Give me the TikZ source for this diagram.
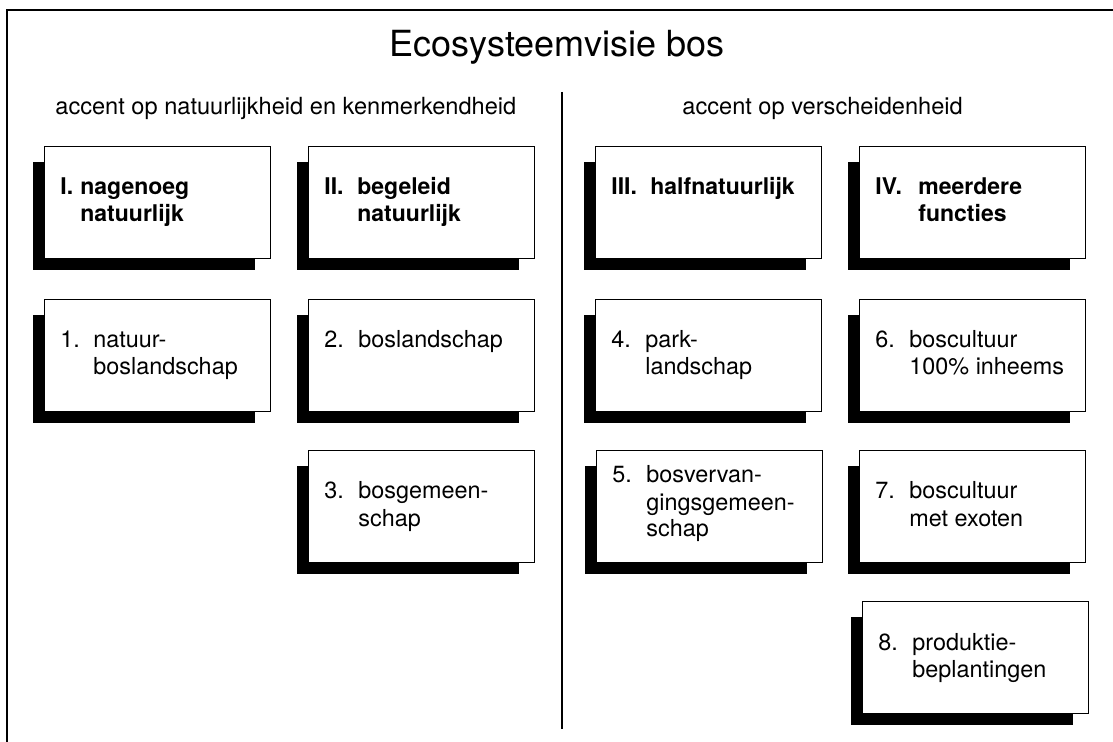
\documentclass[tikz,border=0pt]{standalone}
\usepackage{fontspec}
\setmainfont{TeX Gyre Heros}
\newcommand\ebox[4]{% name, x, y(top), label
  \fill[shade] (#2-11,#3+16) rectangle (#2+211,#3+124);
  \node[ebox] (#1) at (#2,#3) {};
  \node[txt] (#1-n) at (#2+16,#3+49) {#4};
}
\newcommand\eboxb[4]{% bold label
  \fill[shade] (#2-11,#3+16) rectangle (#2+211,#3+124);
  \node[ebox] (#1) at (#2,#3) {};
  \node[btxt] (#1-n) at (#2+16,#3+49) {#4};
}
\begin{document}
\begin{tikzpicture}[x=0.5pt,y=-0.5pt,
  frame/.style={line width=0.8pt},
  ebox/.style={draw, fill=white, line width=0.7pt, minimum width=113pt, minimum height=56pt, inner sep=0pt, anchor=north west},
  shade/.style={fill=black},
  txt/.style={anchor=base west, inner sep=0pt, font=\fontsize{11.7}{13.5}\selectfont},
  btxt/.style={txt, font=\fontsize{11.5}{13.5}\selectfont\bfseries},
  head/.style={anchor=base west, inner sep=0pt, font=\fontsize{11.8}{14}\selectfont},
  ttl/.style={anchor=base, inner sep=0pt, font=\fontsize{18}{22}\selectfont}]
\useasboundingbox (0,0) rectangle (1113,742);
% frame and divider
\draw[frame] (1113,10) -- (7,10) -- (7,742);
\draw[frame] (562,92) -- (562,729);
% headings
\node[ttl] (title) at (557,57) {Ecosysteemvisie bos};
\node[head] (hl) at (55,115) {accent op natuurlijkheid en kenmerkendheid};
\node[head] (hr) at (682,115) {accent op verscheidenheid};
% row 1
\eboxb{bI}{44}{146}{I.}
\node[btxt] (bI-a) at (44+36,146+49) {nagenoeg};
\node[btxt] (bI-b) at (44+36,146+76) {natuurlijk};
\eboxb{bII}{308}{146}{II.}
\node[btxt] (bII-a) at (308+49,146+49) {begeleid};
\node[btxt] (bII-b) at (308+49,146+76) {natuurlijk};
\eboxb{bIII}{595}{146}{III.}
\node[btxt] (bIII-a) at (595+55,146+49) {halfnatuurlijk};
\eboxb{bIV}{859}{146}{IV.}
\node[btxt] (bIV-a) at (859+59,146+49) {meerdere};
\node[btxt] (bIV-b) at (859+59,146+76) {functies};
% row 2
\ebox{b1}{44}{299}{1.}
\node[txt] (b1-a) at (44+49,299+49) {natuur-};
\node[txt] (b1-b) at (44+49,299+76) {boslandschap};
\ebox{b2}{308}{299}{2.}
\node[txt] (b2-a) at (308+50,299+49) {boslandschap};
\ebox{b4}{595}{299}{4.}
\node[txt] (b4-a) at (595+50,299+49) {park-};
\node[txt] (b4-b) at (595+50,299+76) {landschap};
\ebox{b6}{859}{299}{6.}
\node[txt] (b6-a) at (859+50,299+49) {boscultuur};
\node[txt] (b6-b) at (859+50,299+76) {100\% inheems};
% row 3
\ebox{b3}{308}{450}{3.}
\node[txt] (b3-a) at (308+50,450+49) {bosgemeen-};
\node[txt] (b3-b) at (308+50,450+76) {schap};
\fill[shade] (596-11,450+16) rectangle (596+211,450+124);
\node[ebox] (b5) at (596,450) {};
\node[txt] (b5-n) at (596+16,450+33) {5.};
\node[txt] (b5-a) at (596+50,450+33) {bosvervan-};
\node[txt] (b5-b) at (596+50,450+60) {gingsgemeen-};
\node[txt] (b5-c) at (596+50,450+87) {schap};
\ebox{b7}{859}{450}{7.}
\node[txt] (b7-a) at (859+50,450+49) {boscultuur};
\node[txt] (b7-b) at (859+50,450+76) {met exoten};
% row 4
\ebox{b8}{862}{601}{8.}
\node[txt] (b8-a) at (862+50,601+49) {produktie-};
\node[txt] (b8-b) at (862+50,601+76) {beplantingen};
\end{tikzpicture}
\end{document}
